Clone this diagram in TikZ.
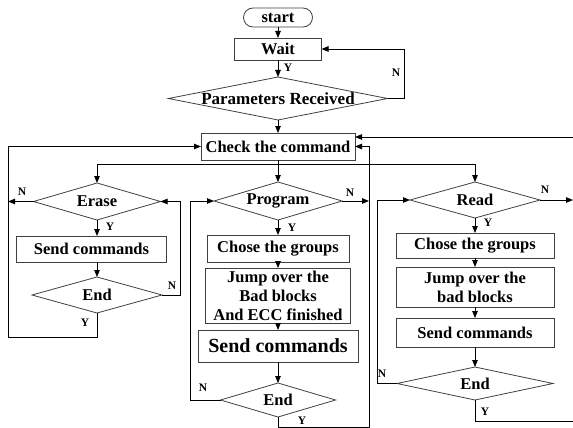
\documentclass[tikz,border=0pt]{standalone}
\usepackage{fontspec}
\setmainfont{Liberation Serif}
\usetikzlibrary{arrows.meta,shapes.geometric}
\begin{document}
\begin{tikzpicture}[x=1pt,y=-1pt,
 every node/.style={font=\fontsize{16.5}{19}\selectfont\bfseries},
 box/.style={draw=black!75, line width=0.8pt, rectangle, inner sep=0pt, outer sep=0pt, align=center},
 dia/.style={draw=black!75, line width=0.8pt, diamond, inner sep=0pt, outer sep=0pt},
 txt/.style={inner sep=0pt, align=center},
 lab/.style={font=\fontsize{11.5}{12}\selectfont\bfseries, inner sep=0pt},
 line/.style={line width=0.8pt, black},
 arr/.style={line, -{Triangle[length=7pt,width=5.5pt]}},
]
\useasboundingbox (0,0) rectangle (573,428);

% top
\node[box, rounded corners=9.5pt, minimum width=69pt, minimum height=19pt] (start) at (278,17.5) {start};
\node[box, minimum width=87pt, minimum height=22pt] (wait) at (278,49) {Wait};
\node[dia, minimum width=219pt, minimum height=43pt] (params) at (278,98.5) {};
\node[txt, font=\fontsize{17}{19}\selectfont\bfseries] (paramst) at (params) {Parameters Received};
\node[box, minimum width=154pt, minimum height=27pt] (check) at (278,146.5) {Check the command};

% erase column
\node[dia, minimum width=127pt, minimum height=37pt] (erase) at (97,201.5) {};
\node[txt] (eraset) at (erase) {Erase};
\node[box, minimum width=150pt, minimum height=26pt] (es) at (91.5,249) {Send commands};
\node[dia, minimum width=130pt, minimum height=36pt] (ee) at (97,295) {};
\node[txt] (eet) at (ee) {End};

% program column
\node[dia, minimum width=128pt, minimum height=38pt] (prog) at (278,201) {};
\node[txt] (progt) at (prog) {Program};
\node[box, minimum width=142pt, minimum height=27pt] (pc) at (278,248.5) {Chose the groups};
\node[box, minimum width=145pt, minimum height=55pt] (pj) at (278,295.5) {Jump over the\\Bad blocks\\And ECC finished};
\node[box, minimum width=160pt, minimum height=32pt, font=\fontsize{20}{22}\selectfont\bfseries] (ps) at (278,346) {Send commands};
\node[dia, minimum width=115pt, minimum height=34pt] (pe) at (278,400) {};
\node[txt] (pet) at (pe) {End};

% read column
\node[dia, minimum width=130pt, minimum height=36pt] (read) at (475,200) {};
\node[txt] (readt) at (read) {Read};
\node[box, minimum width=158pt, minimum height=25pt] (rc) at (475,245.5) {Chose the groups};
\node[box, minimum width=158pt, minimum height=40pt] (rj) at (475,287) {Jump over the\\bad blocks};
\node[box, minimum width=158pt, minimum height=29pt] (rs) at (475,332.5) {Send commands};
\node[dia, minimum width=156pt, minimum height=33pt] (re) at (475,383.5) {};
\node[txt] (ret) at (re) {End};

% coordinates
\coordinate (nloop) at (404,49);
\coordinate (split) at (278,164);
\coordinate (eN) at (8,201.5);
\coordinate (eloop) at (180,295);
\coordinate (ebl) at (97,337);
\coordinate (etl) at (8,146.5);
\coordinate (pr) at (369,201);
\coordinate (pel) at (190,400);
\coordinate (pbl) at (278,427);
\coordinate (pbr) at (369,427);
\coordinate (tr) at (573,137);
\coordinate (rN) at (573,200);
\coordinate (rel) at (377,383.5);
\coordinate (rby) at (475,421);
\coordinate (rbr) at (573,421);

% top connectors
\draw[arr] (start) -- (wait);
\draw[arr] (wait) -- (params.north);
\draw[arr] (params.east) -| (nloop) -- (wait.east);
\draw[arr] (params.south) -- (check.north);
\draw[arr] (check.south) -- (prog.north);
\draw[line] (erase.north |- split) -- (read.north |- split);
\draw[arr] (erase.north |- split) -- (erase.north);
\draw[arr] (read.north |- split) -- (read.north);
\draw[arr] (tr) -- (tr -| check.east);

% erase connectors
\draw[arr] (erase.west) -- (eN);
\draw[arr] (erase.south) -- (erase.south |- es.north);
\draw[arr] (ee.north |- es.south) -- (ee.north);
\draw[arr] (ee.east) -- (eloop) |- (erase.east);
\draw[arr] (ee.south) -- (ebl) -| (etl) -- (check.west);

% program connectors
\draw[arr] (prog.south) -- (pc.north);
\draw[arr] (pc.south) -- (pj.north);
\draw[arr] (pj.south) -- (ps.north);
\draw[arr] (ps.south) -- (pe.north);
\draw[arr] (prog.east) -- (pr);
\draw[arr] (pe.west) -- (pel) |- (prog.west);
\draw[arr] (pe.south) -- (pbl) -- (pbr) |- (check.east);

% read connectors
\draw[arr] (read.south) -- (rc.north);
\draw[arr] (rc.south) -- (rj.north);
\draw[arr] (rj.south) -- (rs.north);
\draw[arr] (rs.south) -- (re.north);
\draw[arr] (read.east) -- (rN);
\draw[arr] (re.west) -- (rel) |- (read.west);
\draw[line] (re.south) -- (rby) -- (rbr);

% labels
\node[lab] (l1) at (288,68) {Y};
\node[lab] (l2) at (396,73) {N};
\node[lab] (l3) at (22,192) {N};
\node[lab] (l4) at (110,227) {Y};
\node[lab] (l5) at (172,286) {N};
\node[lab] (l6) at (85,323) {Y};
\node[lab] (l7) at (350,193) {N};
\node[lab] (l8) at (292,228) {Y};
\node[lab] (l9) at (203,388) {N};
\node[lab] (l10) at (302,421) {Y};
\node[lab] (l11) at (545,190) {N};
\node[lab] (l12) at (488,223) {Y};
\node[lab] (l13) at (382,374) {N};
\node[lab] (l14) at (485,412) {Y};
\end{tikzpicture}
\end{document}
